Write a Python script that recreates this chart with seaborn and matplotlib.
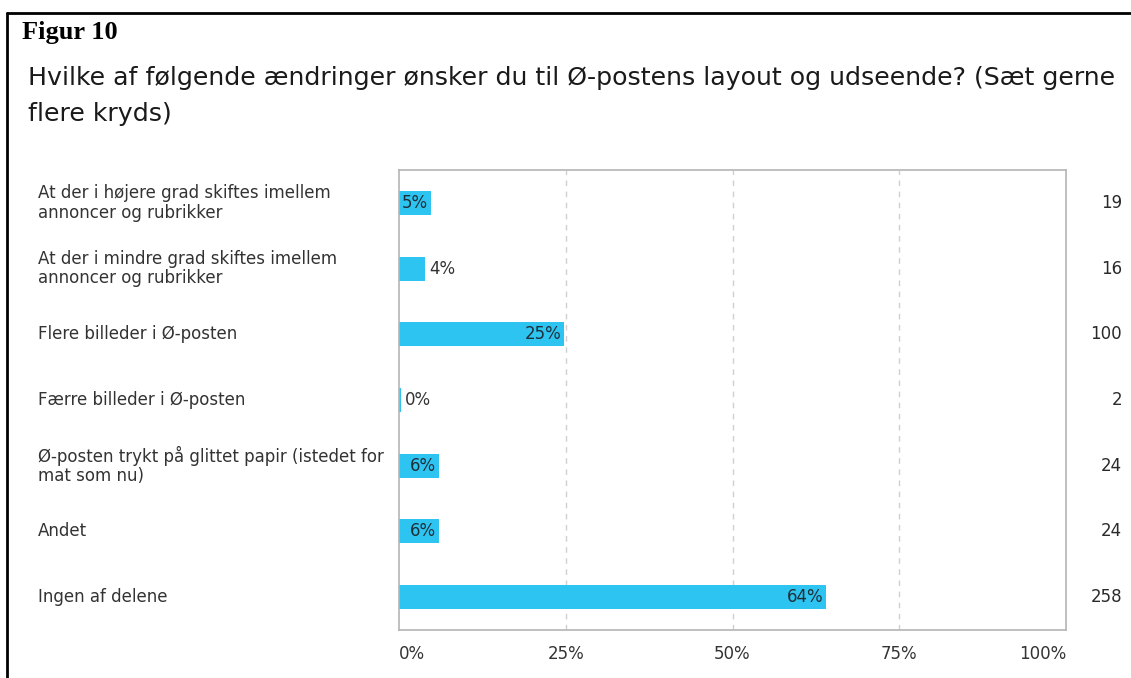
import matplotlib
matplotlib.use("Agg")
import matplotlib.pyplot as plt
import matplotlib.transforms as mtransforms
from matplotlib.lines import Line2D
import seaborn as sns
import pandas as pd

categories = [
    "At der i højere grad skiftes imellem\nannoncer og rubrikker",
    "At der i mindre grad skiftes imellem\nannoncer og rubrikker",
    "Flere billeder i Ø-posten",
    "Færre billeder i Ø-posten",
    "Ø-posten trykt på glittet papir (istedet for\nmat som nu)",
    "Andet",
    "Ingen af delene",
]
percent_values = [4.8, 3.9, 24.8, 0.3, 6.0, 6.0, 64.0]
percent_labels = ["5%", "4%", "25%", "0%", "6%", "6%", "64%"]
counts = [19, 16, 100, 2, 24, 24, 258]
xticks = [0, 25, 50, 75, 100]
xtick_labels = ["0%", "25%", "50%", "75%", "100%"]

title = "Hvilke af følgende ændringer ønsker du til Ø-postens layout og udseende? (Sæt gerne\nflere kryds)"
figure_label = "Figur 10"

df = pd.DataFrame({"category": categories, "percent": percent_values})

sns.set_theme(style="white")
plt.rcParams["font.family"] = ["DejaVu Sans"]

W, H = 1131, 678
fig = plt.figure(figsize=(W / 100, H / 100), dpi=100)
fig.patch.set_facecolor("white")

def fx(px):
    return px / W

def fy(py):
    return 1 - py / H

ax = fig.add_axes([fx(399), fy(630), fx(1066) - fx(399), fy(170) - fy(630)])

bar_color = "#2EC4F2"
sns.barplot(data=df, y="category", x="percent", orient="h", color=bar_color,
            width=0.365, saturation=1, ax=ax, edgecolor="none")

ax.set_xlim(0, 100)
ax.set_ylim(6.5, -0.5)
ax.set_xlabel("")
ax.set_ylabel("")
ax.set_yticks([])
ax.set_xticks(xticks)
ax.set_xticklabels(xtick_labels, fontsize=12, color="#333333")
tl = ax.get_xticklabels()
tl[0].set_ha("left")
tl[-1].set_ha("right")
ax.tick_params(axis="x", length=0, pad=11)

for x in xticks[1:-1]:
    ax.axvline(x, color="#d0d0d0", linestyle=(0, (4, 4)), linewidth=1, zorder=0)

for s in ax.spines.values():
    s.set_color("#b5b5b5")
    s.set_linewidth(1.2)

# percentage labels
for i, (v, lab) in enumerate(zip(percent_values, percent_labels)):
    if v >= 4.5:
        ax.text(v - 0.4, i, lab, ha="right", va="center", fontsize=12, color="#1f2f38")
    else:
        ax.text(v + 0.6, i, lab, ha="left", va="center", fontsize=12, color="#333333")

# category labels on the left
trans_left = mtransforms.blended_transform_factory(fig.transFigure, ax.transData)
for i, c in enumerate(categories):
    ax.text(fx(38), i, c, transform=trans_left, ha="left", va="center",
            fontsize=12, color="#333333", linespacing=1.1, clip_on=False)

# counts on the right
for i, n in enumerate(counts):
    ax.text(fx(1122), i, str(n), transform=trans_left, ha="right", va="center",
            fontsize=12, color="#2a2a2a", clip_on=False)

# titles
fig.text(fx(22), fy(33), figure_label, ha="left", va="center", fontsize=19,
         fontweight="bold", family="Liberation Serif", color="black")
fig.text(fx(28), fy(96), title, ha="left", va="center", fontsize=18.2,
         color="#1a1a1a", linespacing=1.65)

# black frame lines (top and left)
fig.add_artist(Line2D([fx(7), 1.0], [fy(13), fy(13)], color="black", linewidth=2,
                      transform=fig.transFigure))
fig.add_artist(Line2D([fx(7), fx(7)], [fy(13), 0.0], color="black", linewidth=2,
                      transform=fig.transFigure))

fig.savefig("out.png", dpi=100, facecolor="white")
